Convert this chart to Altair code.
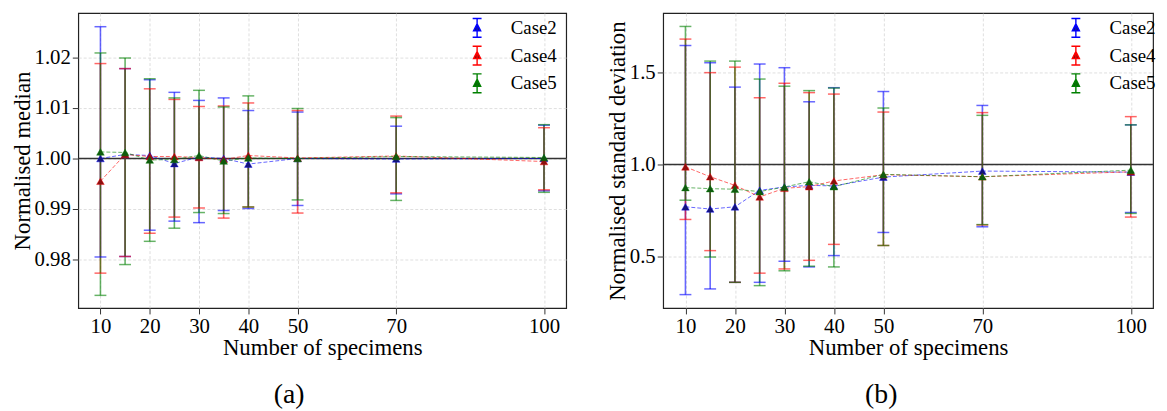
import altair as alt
import pandas as pd

# ---------------- data ----------------
n_specimens = [10, 15, 20, 25, 30, 35, 40, 50, 70, 100]
x_ticks = [10, 20, 30, 40, 50, 70, 100]
cases = ["Case2", "Case4", "Case5"]

# (a) normalised median: centre, lower and upper error-bar ends
case2_med = [1.0000, 1.0008, 1.0006, 0.9990, 1.0003, 1.0000, 0.9989, 1.0000, 0.9999, 1.0000]
case2_med_lo = [0.9805, 0.9806, 0.9858, 0.9876, 0.9873, 0.9897, 0.9901, 0.9907, 0.9930, 0.9936]
case2_med_hi = [1.0261, 1.0178, 1.0156, 1.0131, 1.0115, 1.0120, 1.0095, 1.0092, 1.0064, 1.0066]

case4_med = [0.9955, 1.0008, 1.0004, 1.0004, 1.0002, 0.9998, 1.0006, 1.0001, 1.0005, 0.9994]
case4_med_lo = [0.9773, 0.9806, 0.9852, 0.9884, 0.9902, 0.9882, 0.9904, 0.9892, 0.9932, 0.9938]
case4_med_hi = [1.0188, 1.0178, 1.0138, 1.0117, 1.0103, 1.0104, 1.0110, 1.0095, 1.0084, 1.0061]

case5_med = [1.0013, 1.0012, 0.9997, 0.9998, 1.0006, 0.9995, 1.0001, 1.0000, 1.0004, 1.0002]
case5_med_lo = [0.9729, 0.9790, 0.9836, 0.9862, 0.9893, 0.9891, 0.9904, 0.9918, 0.9917, 0.9933]
case5_med_hi = [1.0209, 1.0199, 1.0158, 1.0120, 1.0135, 1.0102, 1.0124, 1.0099, 1.0081, 1.0067]

# (b) normalised standard deviation
case2_sd = [0.769, 0.757, 0.769, 0.859, 0.877, 0.886, 0.883, 0.931, 0.964, 0.958]
case2_sd_lo = [0.290, 0.321, 0.357, 0.357, 0.472, 0.441, 0.503, 0.629, 0.660, 0.738]
case2_sd_hi = [1.649, 1.555, 1.422, 1.548, 1.528, 1.342, 1.419, 1.398, 1.322, 1.216]

case4_sd = [0.987, 0.933, 0.886, 0.823, 0.870, 0.879, 0.910, 0.944, 0.933, 0.960]
case4_sd_lo = [0.700, 0.530, 0.357, 0.407, 0.430, 0.477, 0.564, 0.558, 0.670, 0.713]
case4_sd_hi = [1.684, 1.501, 1.531, 1.364, 1.443, 1.392, 1.384, 1.286, 1.283, 1.261]

case5_sd = [0.874, 0.868, 0.865, 0.852, 0.877, 0.906, 0.879, 0.946, 0.933, 0.969]
case5_sd_lo = [0.805, 0.495, 0.357, 0.339, 0.420, 0.445, 0.441, 0.558, 0.672, 0.733]
case5_sd_hi = [1.753, 1.564, 1.564, 1.466, 1.427, 1.403, 1.417, 1.308, 1.268, 1.216]

light_colors = ["#0000ff", "#ff0000", "#008000"]
dark_colors = ["#141478", "#8c1010", "#0f5a0f"]
FONT = "Liberation Serif"


def build_frame(series):
    rows = []
    for case, (v, lo, hi) in zip(cases, series):
        for i, n in enumerate(n_specimens):
            rows.append({"case": case, "n": n, "v": v[i], "lo": lo[i], "hi": hi[i]})
    return pd.DataFrame(rows)


med_df = build_frame([(case2_med, case2_med_lo, case2_med_hi),
                      (case4_med, case4_med_lo, case4_med_hi),
                      (case5_med, case5_med_lo, case5_med_hi)])
sd_df = build_frame([(case2_sd, case2_sd_lo, case2_sd_hi),
                     (case4_sd, case4_sd_lo, case4_sd_hi),
                     (case5_sd, case5_sd_lo, case5_sd_hi)])

LEGEND_PATH = ("M-0.45,-0.95L0.45,-0.95M0,-0.95L0,0.95M-0.45,0.95L0.45,0.95"
               "M0,-0.42L0.36,0.3L-0.36,0.3Z")


def panel(df, ydomain, yvalues, yfmt, ytitle, caption, width, legend_x):
    xenc = alt.X("n:Q", title="Number of specimens",
                 scale=alt.Scale(domain=[5.5, 104.5], nice=False, zero=False),
                 axis=alt.Axis(values=x_ticks, format="d", labelFont=FONT, titleFont=FONT,
                               labelPadding=2, titlePadding=0))

    def yenc(field):
        return alt.Y(f"{field}:Q", title=ytitle,
                     scale=alt.Scale(domain=ydomain, nice=False, zero=False),
                     axis=alt.Axis(values=yvalues, format=yfmt, labelFont=FONT, titleFont=FONT,
                                   labelPadding=2, titlePadding=0))

    cscale = alt.Scale(domain=cases, range=light_colors)
    dscale = alt.Scale(domain=cases, range=dark_colors)
    base = alt.Chart(df)

    ref = alt.Chart(pd.DataFrame({"v": [1.0]})).mark_rule(
        color="#333333", strokeWidth=1.4).encode(y=yenc("v"))

    bars = base.mark_rule(strokeWidth=1.6, opacity=0.6).encode(
        x=xenc, y=yenc("lo"), y2="hi",
        color=alt.Color("case:N", scale=cscale, legend=None))

    caps_lo = base.mark_tick(orient="horizontal", size=12, thickness=1.5, opacity=0.6).encode(
        x=xenc, y=yenc("lo"),
        color=alt.Color("case:N", scale=cscale, legend=None))
    caps_hi = base.mark_tick(orient="horizontal", size=12, thickness=1.5, opacity=0.6).encode(
        x=xenc, y=yenc("hi"),
        color=alt.Color("case:N", scale=cscale, legend=None))

    lines = base.mark_line(strokeDash=[4, 2], strokeWidth=1, opacity=0.6).encode(
        x=xenc, y=yenc("v"),
        color=alt.Color("case:N", scale=cscale, legend=None))

    legend = alt.Legend(title=None, orient="none", legendX=legend_x, legendY=4,
                        symbolType=LEGEND_PATH, symbolSize=400, symbolStrokeWidth=1.4,
                        labelFont=FONT, labelFontSize=19, labelOffset=23,
                        rowPadding=2, padding=0)
    pts = base.mark_point(shape="triangle-up", filled=True, size=60,
                          strokeWidth=0.4, opacity=1).encode(
        x=xenc, y=yenc("v"),
        fill=alt.Fill("case:N", scale=dscale, legend=legend),
        stroke=alt.Stroke("case:N", scale=cscale, legend=legend))

    return alt.layer(ref, bars, caps_lo, caps_hi, lines, pts).properties(
        width=width, height=298,
        title=alt.TitleParams(caption, orient="bottom", anchor="middle", frame="bounds",
                              font=FONT, fontSize=28, fontWeight="normal", offset=22))


left = panel(med_df, [0.9704, 1.0288], [0.98, 0.99, 1.00, 1.01, 1.02], ".2f",
             "Normalised median", "(a)", 493, 392)
right = panel(sd_df, [0.217, 1.826], [0.5, 1.0, 1.5], ".1f",
              "Normalised standard deviation", "(b)", 495, 406)

chart = alt.hconcat(left, right, spacing=38).resolve_scale(
    fill="independent", stroke="independent").resolve_legend(
    fill="independent", stroke="independent").properties(
    padding={"left": 2, "top": 2, "right": 2, "bottom": 2}
).configure(font=FONT).configure_view(stroke="#222222", strokeWidth=1.2).configure_axis(
    labelFont=FONT, titleFont=FONT, labelFontSize=21, titleFontSize=23,
    titleFontWeight="normal", labelColor="black", titleColor="black",
    tickColor="#333333", tickSize=6, domain=False, grid=True,
    gridColor="#d6d6d6", gridDash=[3, 2], gridWidth=0.8
)

chart.save("out.html", embed_options={"renderer": "svg", "actions": False})
